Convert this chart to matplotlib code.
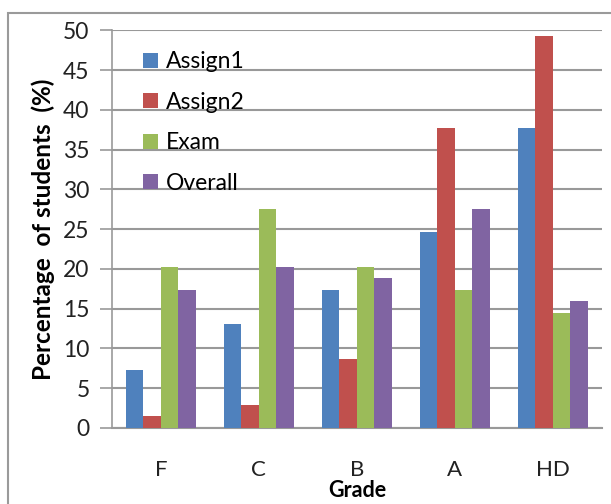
import numpy as np
import matplotlib.pyplot as plt
from matplotlib.patches import Rectangle

# grade distribution (% of students)
grades = ['F', 'C', 'B', 'A', 'HD']
assign1 = [7.25, 13.04, 17.39, 24.64, 37.68]
assign2 = [1.45, 2.90, 8.70, 37.68, 49.28]
exam = [20.29, 27.54, 20.29, 17.39, 14.49]
overall = [17.39, 20.29, 18.84, 27.54, 15.94]

series = [('Assign1', assign1, '#4F81BD'),
          ('Assign2', assign2, '#C0504D'),
          ('Exam', exam, '#9BBB59'),
          ('Overall', overall, '#8064A2')]

plt.rcParams['font.family'] = ['Lato', 'DejaVu Sans']

fig = plt.figure(figsize=(6.11, 5.04), dpi=100)
ax = fig.add_axes([0.183, 0.151, 0.802, 0.789])

# outer chart border
fig.patches.append(Rectangle((8 / 611, -0.1), 1.2, 1 - 13 / 504 + 0.1,
                             transform=fig.transFigure, fill=False,
                             edgecolor='#9a9a9a', linewidth=1.5))

x = np.arange(len(grades))
w = 0.18
for i, (name, vals, col) in enumerate(series):
    ax.bar(x + (i - 1.5) * w, vals, w, color=col, label=name, zorder=3)

ax.set_xlim(-0.5, 4.5)
ax.set_ylim(0, 50)
ax.set_yticks(range(0, 51, 5))
ax.set_xticks(x)
ax.set_xticklabels(grades, fontsize=16)
ax.tick_params(axis='x', length=0, pad=23, colors='#222222')
ax.tick_params(axis='y', labelsize=16.5, length=9, width=1.2, pad=7,
               colors='#222222')
ax.tick_params(axis='y', color='#999999')
ax.grid(axis='y', color='#999999', linewidth=1.5, zorder=0)

for s in ['top', 'right']:
    ax.spines[s].set_visible(False)
ax.spines['left'].set_color('#999999')
ax.spines['bottom'].set_color('#999999')
ax.spines['left'].set_linewidth(1.2)
ax.spines['bottom'].set_linewidth(1.5)

ax.set_ylabel('Percentage  of students  (%)', fontsize=17.5, fontweight='bold',
              labelpad=6)
ax.set_xlabel('Grade', fontsize=15.5, fontweight='bold', va='top')
ax.xaxis.set_label_coords(0.5, -0.131)

leg = ax.legend(loc='upper left', bbox_to_anchor=(0.045, 0.97), frameon=False,
                fontsize=16.5, handlelength=0.65, handleheight=0.65,
                handletextpad=0.35, labelspacing=0.85, borderaxespad=0)

fig.savefig('out.png', dpi=100)
